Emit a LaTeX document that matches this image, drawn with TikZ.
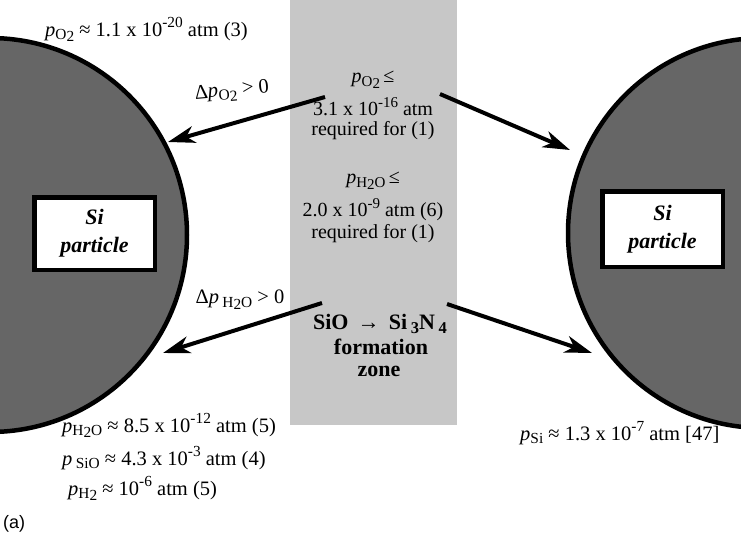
\documentclass[tikz,border=0pt]{standalone}
\usepackage{fontspec}
\usepackage{graphicx}
\setmainfont{Liberation Serif}
\newfontfamily\sansa{Liberation Sans}
\usetikzlibrary{arrows.meta}
\newcommand\dn[1]{\raisebox{-0.4ex}{\scalebox{0.75}{#1}}}
\newcommand\lo[1]{\raisebox{-0.3ex}{#1}}
\newcommand\up[1]{\raisebox{0.9ex}{\scalebox{0.75}{#1}}}
\newcommand\pp{\textit{p}}
\begin{document}
\begin{tikzpicture}[x=1pt,y=-1pt,
  lbl/.style={font=\fontsize{20.5}{24}\selectfont, inner sep=0pt},
  ctr/.style={font=\fontsize{20}{24}\selectfont, inner sep=0pt},
  bctr/.style={font=\bfseries\fontsize{22}{26}\selectfont, inner sep=0pt},
  grain/.style={draw=black, line width=4.5pt, fill=black!60},
  sibox/.style={draw=black, line width=4.5pt, fill=white, minimum width=120.5pt,
    align=center, inner sep=0pt, font=\bfseries\itshape\fontsize{22}{28}\selectfont},
  flux/.style={line width=4pt, -{Stealth[length=27pt,width=17pt,inset=8pt]}},
]
\useasboundingbox (0,0) rectangle (741,541);
\begin{scope}
\clip (0,0) rectangle (741,541);
\fill[black!22] (290,0) rectangle (457,425);
\draw[grain] (-10,235) circle[radius=197];
\draw[grain] (763,233) circle[radius=195];
\end{scope}
\node[sibox, minimum height=72.5pt] (bl) at (94.5,233.5) {Si\\particle};
\node[sibox, minimum height=75.5pt] (br) at (662.5,229) {Si\\particle};
% zone text
\node[ctr] (z1) at (373,80) {\pp\dn{O\lo{2}}\,≤};
\node[ctr] (z2) at (373,107) {3.1 x 10\up{-16} atm};
\node[ctr] (z3) at (373,131) {required for (1)};
\node[ctr] (z4) at (373,181) {\pp\dn{H\lo{2}O}\,≤};
\node[ctr] (z5) at (373,210) {2.0 x 10\up{-9} atm (6)};
\node[ctr] (z6) at (373,234) {required for (1)};
\node[bctr] (z7) at (380,324) {SiO \,→\, Si\,\dn{3}N\,\dn{4}};
\node[bctr] (z8) at (381,347) {formation};
\node[bctr] (z9) at (379,371) {zone};
% outside labels
\node[lbl, anchor=base west] (t1) at (45,36) {\pp\dn{O\lo{2}} ≈ 1.1 x 10\up{-20} atm (3)};
\node[lbl, anchor=base west] (b1) at (62,432) {\pp\dn{H\lo{2}O} ≈ 8.5 x 10\up{-12} atm (5)};
\node[lbl, anchor=base west] (b2) at (62,465) {\pp\,\dn{SiO} ≈ 4.3 x 10\up{-3} atm (4)};
\node[lbl, anchor=base west] (b3) at (68,495) {\pp\dn{H\lo{2}} ≈ 10\up{-6} atm (5)};
\node[lbl, anchor=base west] (b4) at (520,440) {\pp\dn{Si} ≈ 1.3 x 10\up{-7} atm [47]};
\node[lbl, anchor=base west, font=\sansa\fontsize{18}{22}\selectfont] (fa) at (3,528) {(a)};
\node[lbl, rotate=5] (d1) at (232,92) {Δ\pp\dn{O\lo{2}} > 0};
\node[lbl] (d2) at (240,300) {Δ\pp\,\dn{H\lo{2}O} > 0};
% arrows
\coordinate (a1s) at (325,97);  \coordinate (a1e) at (168,142);
\coordinate (a2s) at (440,94);  \coordinate (a2e) at (570,150);
\coordinate (a3s) at (322,303); \coordinate (a3e) at (163,353);
\coordinate (a4s) at (447,304); \coordinate (a4e) at (592,353);
\draw[flux] (a1s) -- (a1e);
\draw[flux] (a2s) -- (a2e);
\draw[flux] (a3s) -- (a3e);
\draw[flux] (a4s) -- (a4e);
\end{tikzpicture}
\end{document}
